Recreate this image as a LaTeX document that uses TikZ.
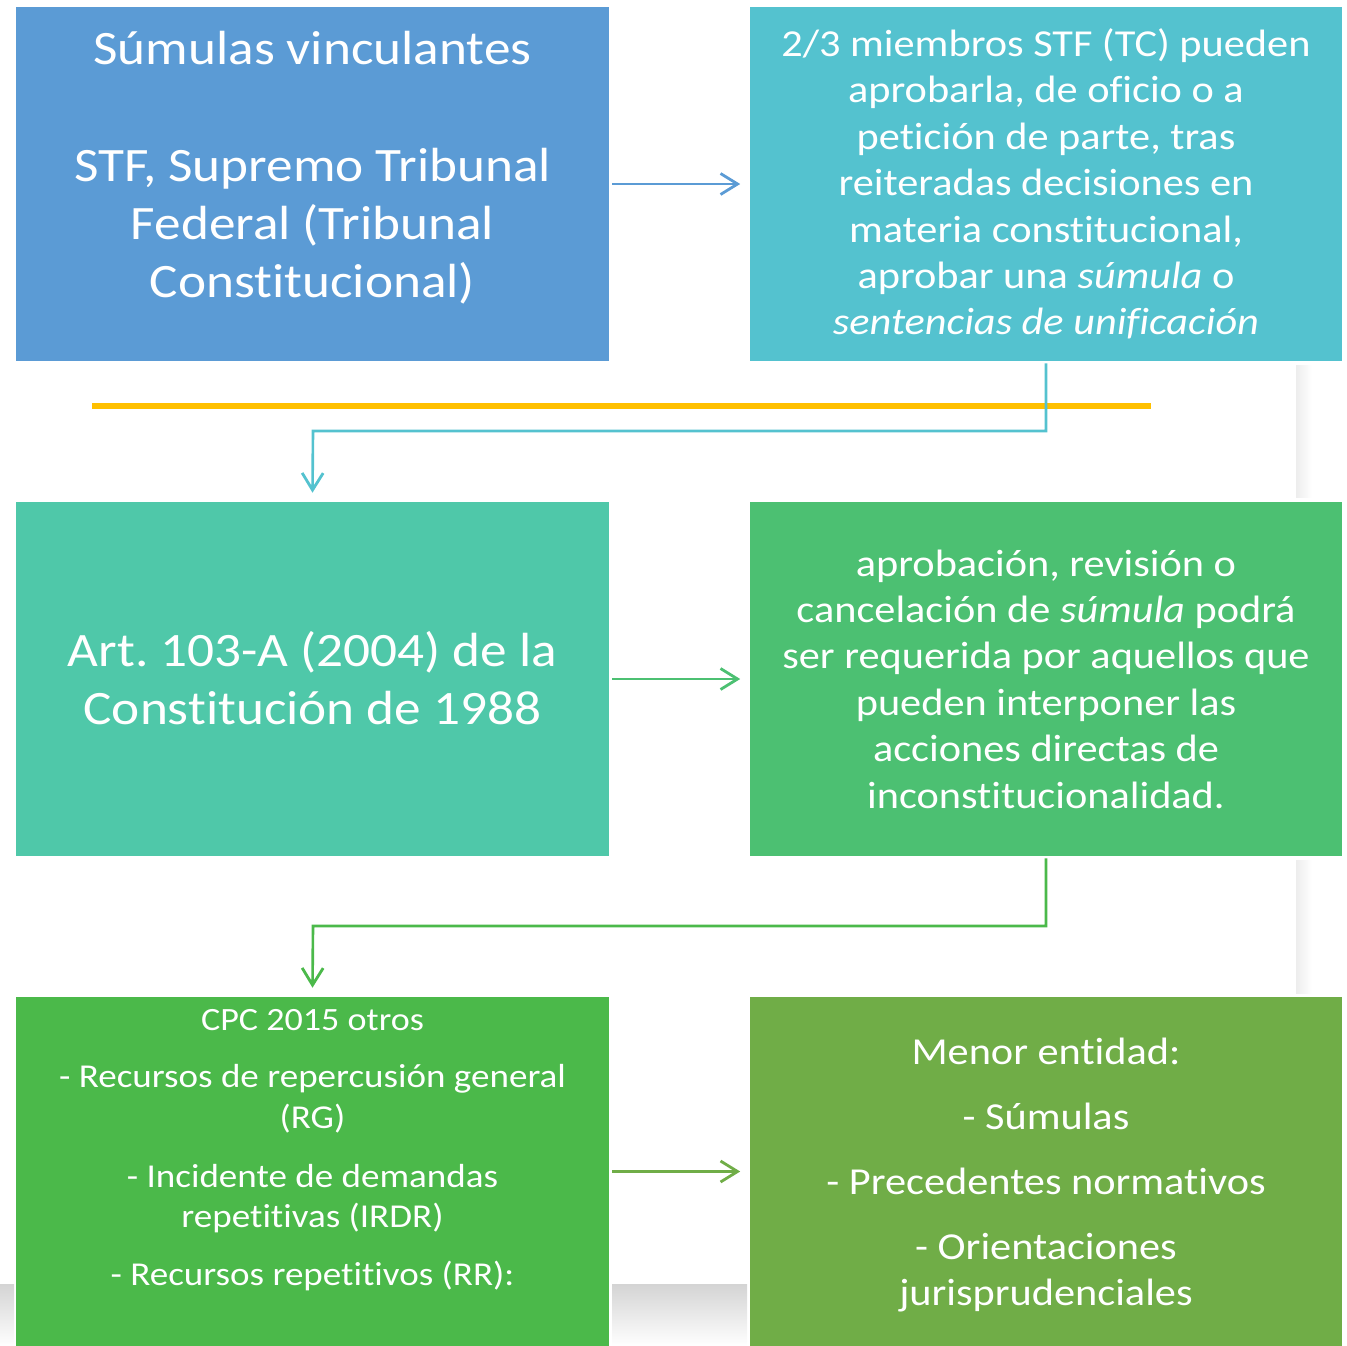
\documentclass[tikz,border=0pt]{standalone}
\usepackage{fontspec}
\setmainfont{Carlito}[FakeStretch=1.11,Ligatures={NoCommon}]
\usetikzlibrary{arrows.meta}
\definecolor{cA}{HTML}{5B9BD5}
\definecolor{cB}{HTML}{54C2CF}
\definecolor{cC}{HTML}{4FC8A9}
\definecolor{cD}{HTML}{4CC072}
\definecolor{cE}{HTML}{4BB94A}
\definecolor{cF}{HTML}{70AD47}
\definecolor{cY}{HTML}{FFC000}
\begin{document}
\frenchspacing
\begin{tikzpicture}[x=0.02cm,y=-0.02cm,
  box/.style={draw=none,inner sep=0pt,minimum width=11.86cm,minimum height=7.08cm},
  boxlow/.style={draw=none,inner sep=0pt,minimum width=11.86cm,minimum height=6.98cm},
  txt/.style={text=white,align=center,inner sep=0pt},
  conn/.style={line width=1.6pt,-{Straight Barb[length=0.34cm,width=0.42cm,line width=1.6pt]}}
]
\useasboundingbox (0,0) rectangle (1347,1346);
% faint shadows
\shade[left color=black!7,right color=white] (1296,365) rectangle (1312,497);
\shade[left color=black!7,right color=white] (1296,860) rectangle (1312,993);
\shade[top color=black!17,bottom color=white] (612,1284) rectangle (747,1346);
\shade[top color=black!17,bottom color=white] (0,1284) rectangle (14,1346);
% boxes
\node[box,fill=cA] (b1) at (312.5,184) {};
\node[box,fill=cB] (b2) at (1046,184) {};
\node[box,fill=cC] (b3) at (312.5,679) {};
\node[box,fill=cD] (b4) at (1046,679) {};
\node[boxlow,fill=cE] (b5) at (312.5,1171.5) {};
\node[boxlow,fill=cF] (b6) at (1046,1171.5) {};
% texts
\node[txt,font=\fontsize{27.3}{33.2}\selectfont] (t1) at (312.5,168)
  {Súmulas vinculantes\\[33.2pt]STF, Supremo Tribunal\\Federal (Tribunal\\Constitucional)};
\node[txt,font=\fontsize{21.7}{26.4}\selectfont] (t2) at (1046,184)
  {2/3 miembros STF (TC) pueden\\aprobarla, de oficio o a\\petición de parte, tras\\reiteradas decisiones en\\materia constitucional,\\aprobar una \textit{súmula} o\\\textit{sentencias de unificación}};
\node[txt,font=\fontsize{27.3}{33.4}\selectfont] (t3) at (312.5,678)
  {Art. 103-A (2004) de la\\Constitución de 1988};
\node[txt,font=\fontsize{21.7}{26.4}\selectfont] (t4) at (1046,679)
  {aprobación, revisión o\\cancelación de \textit{súmula} podrá\\ser requerida por aquellos que\\pueden interponer las\\acciones directas de\\inconstitucionalidad.};
\node[txt,font=\fontsize{19}{23.2}\selectfont] (t5) at (312.5,1150)
  {{\fontsize{18.5}{23.2}\selectfont CPC 2015 otros}\\[9.5pt]- Recursos de repercusión general\\(RG)\\[10pt]- Incidente de demandas\\repetitivas (IRDR)\\[9.5pt]- Recursos repetitivos (RR):};
\node[txt,font=\fontsize{21.7}{26.4}\selectfont] (t6) at (1046,1175)
  {Menor entidad:\\[10.5pt]- Súmulas\\[10.5pt]- Precedentes normativos\\[10.5pt]- Orientaciones\\jurisprudenciales};
% yellow rule
\coordinate (yl) at (92,406);
\coordinate (yr) at (1151,406);
\draw[cY,line width=3.4pt] (yl) -- (yr);
% connectors
\draw[conn,cA] ([xshift=0.06cm]b1.east) -- ([xshift=-0.18cm]b2.west);
\draw[conn,cD] ([xshift=0.06cm]b3.east) -- ([xshift=-0.18cm]b4.west);
\draw[conn,cF] ([xshift=0.06cm]b5.east) -- ([xshift=-0.18cm]b6.west);
\draw[conn,cB,line width=1.5pt] ([yshift=-0.04cm]b2.south) |- (313,431) -- ([yshift=0.18cm]b3.north);
\draw[conn,cE,line width=1.5pt] ([yshift=-0.04cm]b4.south) |- (313,926) -- ([yshift=0.18cm]b5.north);
\end{tikzpicture}
\end{document}
